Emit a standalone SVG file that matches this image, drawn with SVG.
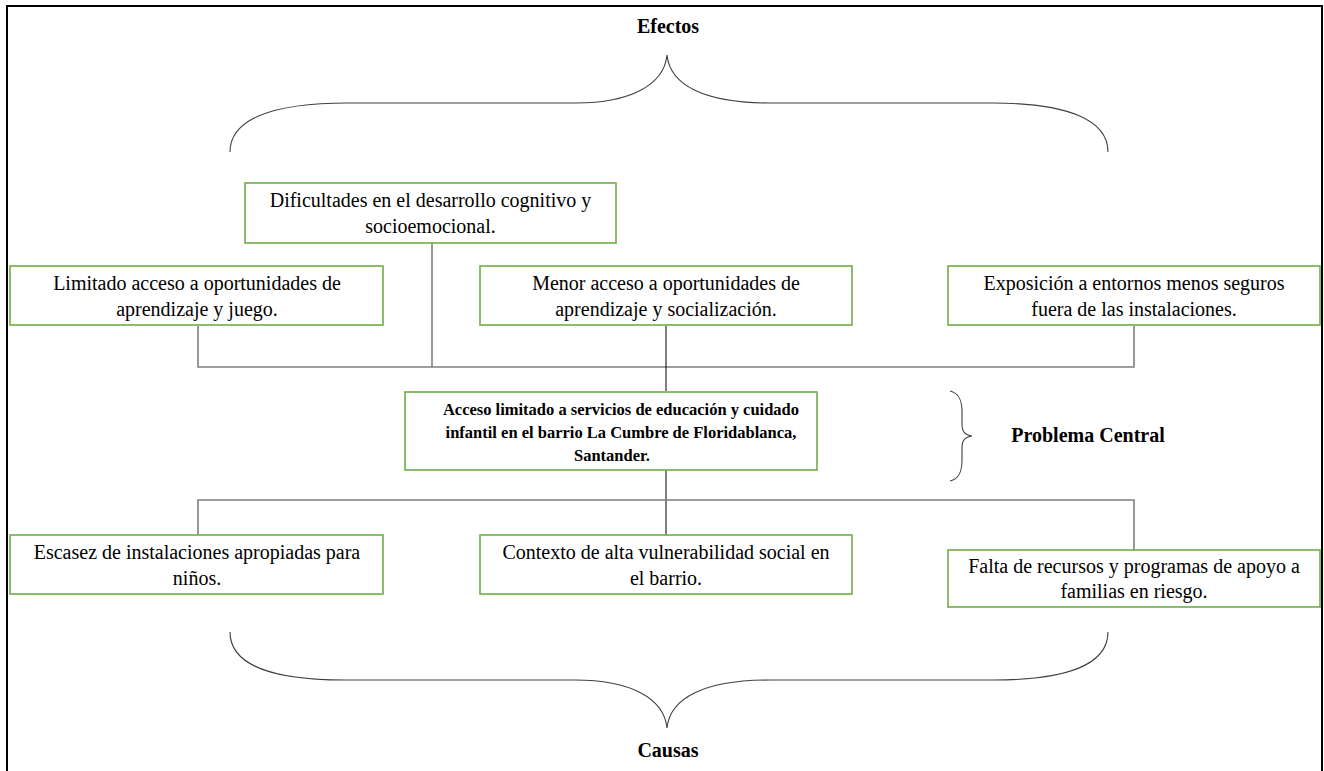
<svg xmlns="http://www.w3.org/2000/svg" width="1324" height="771" viewBox="0 0 1324 771">
<style>
.box{fill:#fff;stroke:#70ad47;stroke-width:1.6}
.t{font-family:"Liberation Serif","Times New Roman",serif;font-size:20px;fill:#000;text-anchor:middle}
.b{font-family:"Liberation Serif","Times New Roman",serif;font-weight:bold;fill:#000;text-anchor:middle}
.g{stroke:#7f7f7f;stroke-width:1.6;fill:none}
.k{stroke:#000;stroke-width:1;fill:none}
.br{stroke:#404040;stroke-width:1.1;fill:none}
</style>
<rect x="0" y="0" width="1324" height="771" fill="#fff"/>
<rect x="7" y="6" width="1315" height="770" fill="none" stroke="#000" stroke-width="2"/>

<g id="efectos-label">
<text class="b" x="668" y="33" font-size="20">Efectos</text>
<path class="br" d="M230,152 C230,120 270,103 348,103 L576,103 C630,103 664,85 667,55 C670,85 704,103 770,103 L993,103 C1068,103 1108,120 1108,152"/>
</g>

<g id="connectors">
<path class="g" d="M198,326 V367 H1134 V326"/>
<path class="g" d="M432,242 V367"/>
<path class="k" d="M666,326 V391"/>
<path class="k" d="M666,469 V535"/>
<path class="g" d="M198,535 V500 H1134 V550"/>
</g>

<g id="n-dificultades">
<rect class="box" x="245" y="183" width="371" height="60"/>
<text class="t" x="430.5" y="207">Dificultades en el desarrollo cognitivo y</text>
<text class="t" x="430.5" y="233">socioemocional.</text>
</g>
<g id="n-limitado">
<rect class="box" x="10" y="266" width="373" height="59"/>
<text class="t" x="197" y="290">Limitado acceso a oportunidades de</text>
<text class="t" x="197" y="316">aprendizaje y juego.</text>
</g>
<g id="n-menor">
<rect class="box" x="480" y="266" width="372" height="59"/>
<text class="t" x="666" y="290">Menor acceso a oportunidades de</text>
<text class="t" x="666" y="316">aprendizaje y socialización.</text>
</g>
<g id="n-exposicion">
<rect class="box" x="948" y="266" width="372" height="59"/>
<text class="t" x="1134" y="290">Exposición a entornos menos seguros</text>
<text class="t" x="1134" y="316">fuera de las instalaciones.</text>
</g>

<g id="n-central">
<rect class="box" x="405" y="392" width="412" height="78"/>
<text class="b" x="621" y="415" font-size="16.5">Acceso limitado a servicios de educación y cuidado</text>
<text class="b" x="621" y="438" font-size="16.5">infantil en el barrio La Cumbre de Floridablanca,</text>
<text class="b" x="612" y="461" font-size="16.5">Santander.</text>
</g>
<g id="problema-label">
<path class="br" d="M950,391 C959,393 962,400 962,412 L962,424 C962,432 965,435 972,436 C965,437 962,440 962,448 L962,460 C962,472 959,479 950,481"/>
<text class="b" x="1088" y="442" font-size="20">Problema Central</text>
</g>

<g id="n-escasez">
<rect class="box" x="10" y="535" width="373" height="59"/>
<text class="t" x="197" y="559">Escasez de instalaciones apropiadas para</text>
<text class="t" x="197" y="585">niños.</text>
</g>
<g id="n-contexto">
<rect class="box" x="480" y="535" width="372" height="59"/>
<text class="t" x="666" y="559">Contexto de alta vulnerabilidad social en</text>
<text class="t" x="666" y="585">el barrio.</text>
</g>
<g id="n-falta">
<rect class="box" x="948" y="550" width="372" height="57"/>
<text class="t" x="1134" y="573">Falta de recursos y programas de apoyo a</text>
<text class="t" x="1134" y="598">familias en riesgo.</text>
</g>

<g id="causas-label">
<path class="br" d="M230,632 C230,664 270,680 345,680 L575,680 C630,680 664,698 667,728 C670,698 704,680 770,680 L993,680 C1068,680 1108,664 1108,632"/>
<text class="b" x="668" y="757" font-size="20">Causas</text>
</g>
</svg>
